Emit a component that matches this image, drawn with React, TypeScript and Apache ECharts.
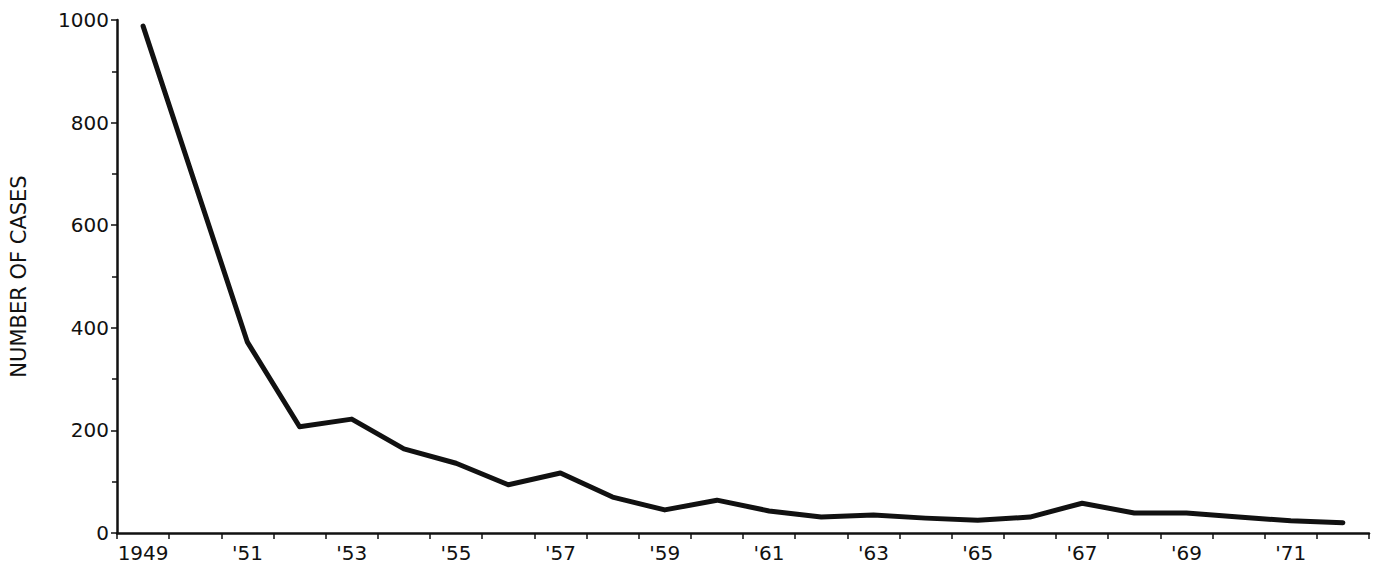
import React, { useEffect, useRef } from "react";
import * as echarts from "echarts";

const years = [
  "1949", "1950", "1951", "1952", "1953", "1954", "1955", "1956",
  "1957", "1958", "1959", "1960", "1961", "1962", "1963", "1964",
  "1965", "1966", "1967", "1968", "1969", "1970", "1971", "1972",
];
const cases = [
  988, 680, 372, 207, 222, 164, 136, 94,
  117, 70, 45, 64, 43, 31, 35, 29,
  25, 31, 58, 39, 39, 31, 24, 20,
];
const yTicks = [0, 200, 400, 600, 800, 1000];
const yAxisTitle = "NUMBER OF CASES";

const FONT = "'DejaVu Sans', sans-serif";
const INK = "#111";

export default function App() {
  const ref = useRef<HTMLDivElement>(null);
  useEffect(() => {
    if (!ref.current) return;
    const chart = echarts.init(ref.current, undefined, { renderer: "svg" });
    chart.setOption({
      animation: false,
      backgroundColor: "#fff",
      grid: { left: 117, right: 9, top: 20, bottom: 37, containLabel: false },
      xAxis: {
        type: "category",
        data: years,
        boundaryGap: true,
        axisLine: { lineStyle: { color: INK, width: 2.5 } },
        axisTick: { show: true, interval: 0, length: 6, lineStyle: { color: INK, width: 1.5 } },
        axisLabel: {
          interval: 1,
          color: INK,
          fontFamily: FONT,
          fontSize: 20,
          margin: 10,
          formatter: (v: string, i: number) => (i === 0 ? v : "'" + v.slice(2)),
        },
        splitLine: { show: false },
      },
      yAxis: {
        type: "value",
        min: yTicks[0],
        max: yTicks[yTicks.length - 1],
        interval: 200,
        name: yAxisTitle,
        nameLocation: "middle",
        nameRotate: 90,
        nameGap: 88,
        nameTextStyle: { color: INK, fontFamily: FONT, fontSize: 21 },
        axisLine: { show: true, lineStyle: { color: INK, width: 2.5 } },
        axisTick: { show: true, length: 6, lineStyle: { color: INK, width: 1.5 } },
        minorTick: { show: true, splitNumber: 2, length: 5, lineStyle: { color: INK, width: 1.5 } },
        axisLabel: {
          color: INK,
          fontFamily: FONT,
          fontSize: 20,
          margin: 8,
          formatter: (v: number) => String(v),
        },
        splitLine: { show: false },
      },
      series: [
        {
          type: "line",
          data: cases,
          symbol: "none",
          lineStyle: { color: INK, width: 5, join: "round", cap: "round" },
        },
      ],
    });
    return () => chart.dispose();
  }, []);
  return (
    <div
      ref={ref}
      style={{ position: "absolute", left: 0, top: 0, width: 1378, height: 570 }}
    />
  );
}
